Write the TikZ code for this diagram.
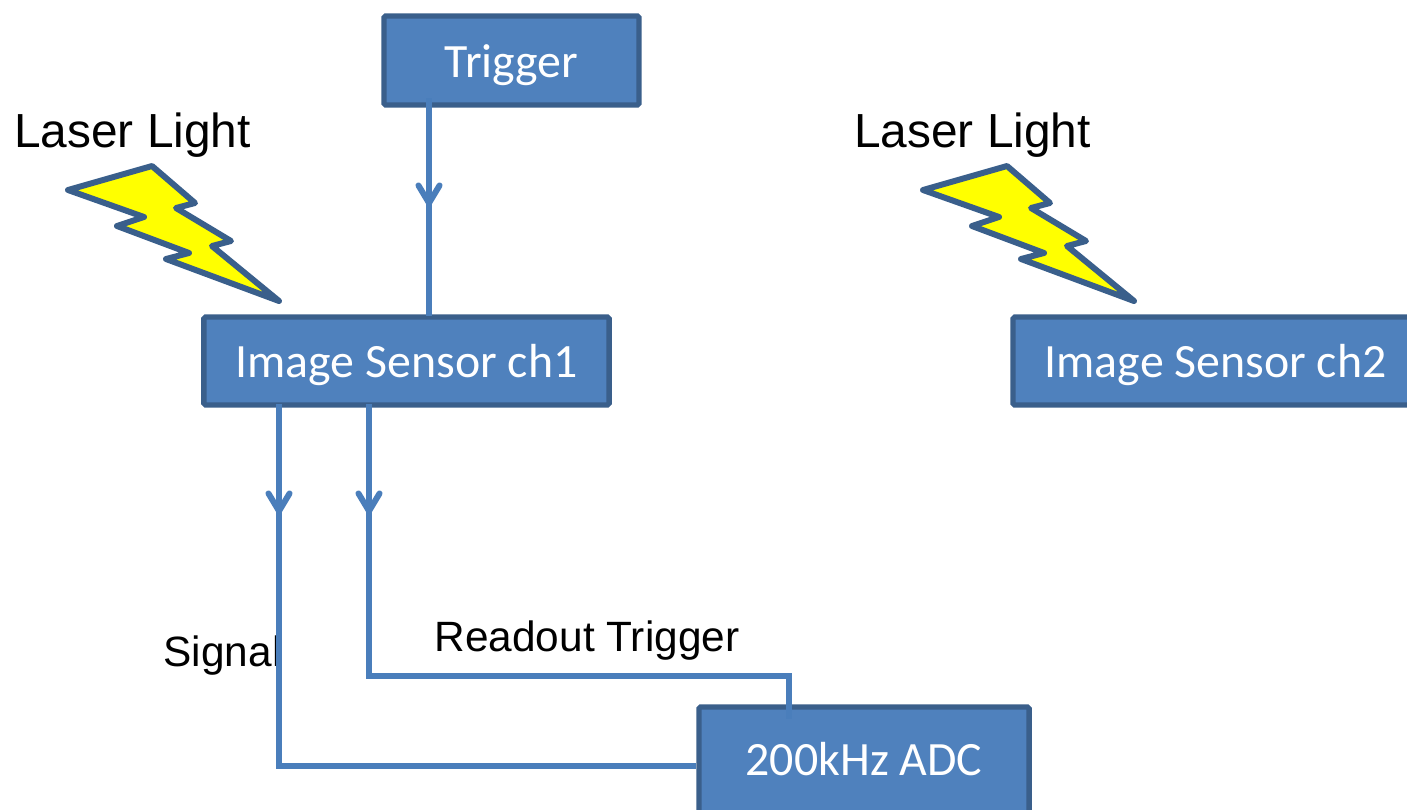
\documentclass[tikz,border=0pt]{standalone}
\usepackage{fontspec}
\setmainfont{Liberation Sans}
\newfontfamily\boxfont{Carlito}
\usetikzlibrary{arrows.meta}
\definecolor{boxfill}{HTML}{4F81BD}
\definecolor{boxedge}{HTML}{3A5F8B}
\definecolor{wirecol}{HTML}{4A7EBB}
\definecolor{boltfill}{HTML}{FFFF00}
\tikzset{
  block/.style={draw=boxedge,fill=boxfill,line width=1.5pt,rounded corners=0.5pt,text=white,
    font=\boxfont\fontsize{13.6}{16}\selectfont,inner sep=0pt,text height=9.6pt,text depth=0pt},
  lasertext/.style={anchor=west,inner sep=0pt,font=\fontsize{13.6}{16}\selectfont},
  wiretext/.style={anchor=west,inner sep=0pt,font=\fontsize{12.05}{14}\selectfont},
  wire/.style={draw=wirecol,line width=1.7pt},
  tipwire/.style={wire,-{Straight Barb[round,length=5pt,width=6pt,line width=1.7pt]}},
  bolt/.pic={
    \draw[fill=boltfill,draw=boxedge,line width=1.7pt,line join=round]
      (68,190) -- (152,166) -- (195,203) -- (176,208) -- (231,241) -- (212,246) -- (279,301)
      -- (166,259) -- (189,253) -- (117,226) -- (144,217) -- cycle;
  }
}
\begin{document}
\begin{tikzpicture}[x=0.01cm,y=-0.01cm]
  \useasboundingbox (0,0) rectangle (1407,809);
  % blocks
  \node[block,minimum width=2.55cm,minimum height=0.89cm] (trigger) at (511.5,60.5) {Trigger};
  \node[block,minimum width=4.05cm,minimum height=0.88cm] (sensorone) at (406.5,361) {Image Sensor ch1};
  \node[block,minimum width=4.05cm,minimum height=0.88cm] (sensortwo) at (1215.6,361) {Image Sensor ch2};
  \node[block,minimum width=3.30cm,minimum height=1.06cm,text height=8.8pt] (adc) at (864,760) {200kHz ADC};
  % lightning
  \pic at (0,0) {bolt};
  \pic at (855,0) {bolt};
  % labels
  \node[lasertext] (laserone) at (13.5,135) {Laser Light};
  \node[lasertext] (lasertwo) at (853.5,135) {Laser Light};
  \node[wiretext] (signal) at (163,656) {Signal};
  \node[wiretext] (readout) at (434,641) {Readout Trigger};
  % wires
  \coordinate (trigstart) at (429,98);
  \coordinate (trigtip) at (429,206);
  \coordinate (trigend) at (429,316);
  \coordinate (sigstart) at (279,404);
  \coordinate (sigtip) at (279,514);
  \coordinate (sigbend) at (279,766);
  \coordinate (readstart) at (369,404);
  \coordinate (readtip) at (369,514);
  \coordinate (readbend) at (369,676);
  \coordinate (readtop) at (789,676);
  \coordinate (readend) at (789,719);
  \draw[wire] (trigstart) -- (trigend);
  \draw[tipwire] (trigstart) -- (trigtip);
  \draw[wire] (sigstart) -- (sigbend) -- (sigbend -| adc.west);
  \draw[tipwire] (sigstart) -- (sigtip);
  \draw[wire] (readstart) -- (readbend) -- (readtop) -- (readend);
  \draw[tipwire] (readstart) -- (readtip);
\end{tikzpicture}
\end{document}
